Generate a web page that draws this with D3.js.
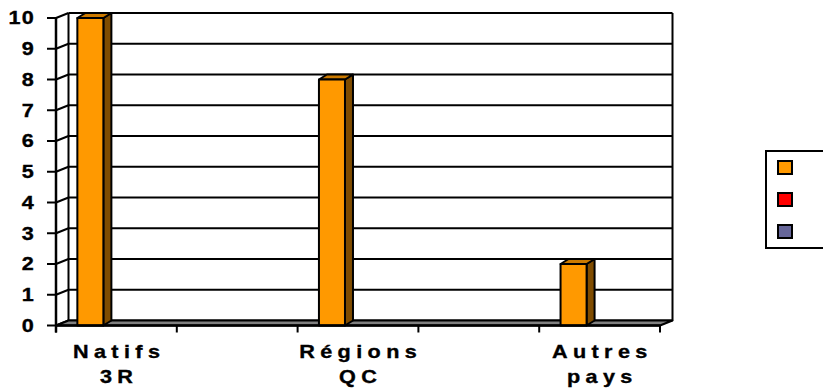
<!DOCTYPE html>
<html>
<head>
<meta charset="utf-8">
<script src="https://cdn.jsdelivr.net/npm/d3@7"></script>
<style>
  body { margin: 0; background: #fff; }
  svg { display: block; }
  text { font-family: "Liberation Sans", Arial, sans-serif; font-weight: bold; fill: #000; stroke: #000; stroke-width: 0.35px; }
</style>
</head>
<body>
<div id="chart"></div>
<script>
// categories (2nd and 4th have no visible label)
var categories = ['Natifs 3R', '', 'Régions QC', '', 'Autres pays'];
var series = ['s1', 's2', 's3'];
var seriesColors = ['#ff9900', '#ff0000', '#666699'];
var values = {
    s1: [10, 0, 8, 0, 2],
    s2: [0, 0, 0, 0, 0],
    s3: [0, 0, 0, 0, 0]
};
var yTicks = [0, 1, 2, 3, 4, 5, 6, 7, 8, 9, 10];

var width = 823, height = 391;
var depth = {dx: 12.5, dy: -5};
var barDepth = {dx: 8, dy: -5};
var stretch = 1.2;

var svg = d3.select('#chart').append('svg')
    .attr('width', width)
    .attr('height', height);

var x0 = d3.scaleBand().domain(d3.range(categories.length)).range([56, 660]);
var x1 = d3.scaleBand().domain(series).range([0, x0.bandwidth()])
    .paddingInner(0).paddingOuter(0.82);
var y = d3.scaleLinear().domain([0, 10]).range([325.5, 18]);

// back wall
svg.append('rect')
    .attr('x', 56 + depth.dx).attr('y', y(10) + depth.dy)
    .attr('width', 660 - 56).attr('height', y(0) - y(10))
    .attr('fill', '#fff');

// gridlines on back wall + side wall diagonals
var grid = svg.append('g').attr('stroke', '#000').attr('stroke-width', 2).attr('fill', 'none');
yTicks.forEach(function(t){
    grid.append('line')
        .attr('x1', 56 + depth.dx).attr('x2', 660 + depth.dx)
        .attr('y1', y(t) + depth.dy).attr('y2', y(t) + depth.dy);
    grid.append('line')
        .attr('x1', 56).attr('x2', 56 + depth.dx)
        .attr('y1', y(t)).attr('y2', y(t) + depth.dy);
});
grid.append('line')
    .attr('x1', 56 + depth.dx).attr('x2', 56 + depth.dx)
    .attr('y1', y(10) + depth.dy).attr('y2', y(0) + depth.dy);
grid.append('line')
    .attr('x1', 660 + depth.dx).attr('x2', 660 + depth.dx)
    .attr('y1', y(10) + depth.dy).attr('y2', y(0) + depth.dy);

// floor
svg.append('path')
    .attr('d', 'M' + [[56, y(0)], [660, y(0)], [660 + depth.dx, y(0) + depth.dy], [56 + depth.dx, y(0) + depth.dy]].join('L') + 'Z')
    .attr('fill', '#808080')
    .attr('stroke', '#000')
    .attr('stroke-width', 2)
    .attr('stroke-linejoin', 'round');

// bars
var bars = [];
categories.forEach(function(c, i){
    series.forEach(function(s, j){
        if(values[s][i] > 0){
            bars.push({cat: i, s: s, color: seriesColors[j], v: values[s][i]});
        }
    });
});

var barG = svg.append('g').attr('stroke', '#000').attr('stroke-width', 2).attr('stroke-linejoin', 'round');
bars.forEach(function(d){
    var xl = x0(d.cat) + x1(d.s);
    var xr = xl + x1.bandwidth();
    var yt = y(d.v), yb = y(0);
    barG.append('path')
        .attr('d', 'M' + [[xr, yb], [xr + barDepth.dx, yb + barDepth.dy], [xr + barDepth.dx, yt + barDepth.dy], [xr, yt]].join('L') + 'Z')
        .attr('fill', '#7f4c00');
    barG.append('path')
        .attr('d', 'M' + [[xl, yt], [xr, yt], [xr + barDepth.dx, yt + barDepth.dy], [xl + barDepth.dx, yt + barDepth.dy]].join('L') + 'Z')
        .attr('fill', '#cc7a00');
    barG.append('rect')
        .attr('x', xl).attr('y', yt)
        .attr('width', xr - xl).attr('height', yb - yt)
        .attr('fill', d.color);
});

// front axes
var axis = svg.append('g').attr('stroke', '#000').attr('stroke-width', 2.5);
axis.append('line').attr('x1', 56).attr('x2', 56).attr('y1', y(10)).attr('y2', y(0) + 7);
axis.append('line').attr('x1', 56).attr('x2', 660).attr('y1', y(0)).attr('y2', y(0));
yTicks.forEach(function(t){
    axis.append('line').attr('x1', 47).attr('x2', 56).attr('y1', y(t)).attr('y2', y(t)).attr('stroke-width', 2);
});
d3.range(categories.length + 1).forEach(function(i){
    var xx = i < categories.length ? x0(i) : 660;
    axis.append('line').attr('x1', xx).attr('x2', xx).attr('y1', y(0)).attr('y2', y(0) + 7).attr('stroke-width', 2);
});

// y labels, slightly stretched like the original
svg.append('g').selectAll('g').data(yTicks).enter().append('g')
    .attr('transform', function(d){ return 'translate(35,' + y(d) + ') scale(' + stretch + ',1)'; })
    .append('text')
    .attr('dy', '0.36em')
    .attr('text-anchor', 'end')
    .style('font-size', '18px')
    .style('letter-spacing', '1px')
    .text(function(d){ return d; });

// x labels (two lines)
var ls = 4.5;
categories.forEach(function(c, i){
    if(!c) return;
    var words = c.split(' ');
    var t = svg.append('g')
        .attr('transform', 'translate(' + (x0(i) + x0.bandwidth() / 2) + ',0) scale(' + stretch + ',1)')
        .append('text')
        .attr('text-anchor', 'middle')
        .style('font-size', '18px')
        .style('letter-spacing', ls + 'px');
    words.forEach(function(w, k){
        t.append('tspan')
            .attr('x', ls / 2)
            .attr('y', 358 + k * 24.6)
            .text(w);
    });
});

// legend (no labels, runs off the right edge)
var legend = svg.append('g');
legend.append('rect')
    .attr('x', 766).attr('y', 151)
    .attr('width', 120).attr('height', 97)
    .attr('fill', '#fff').attr('stroke', '#000').attr('stroke-width', 2);
series.forEach(function(s, j){
    legend.append('rect')
        .attr('x', 778).attr('y', 161 + j * 32)
        .attr('width', 14).attr('height', 13)
        .attr('fill', seriesColors[j])
        .attr('stroke', '#000').attr('stroke-width', 2);
});
</script>
</body>
</html>
